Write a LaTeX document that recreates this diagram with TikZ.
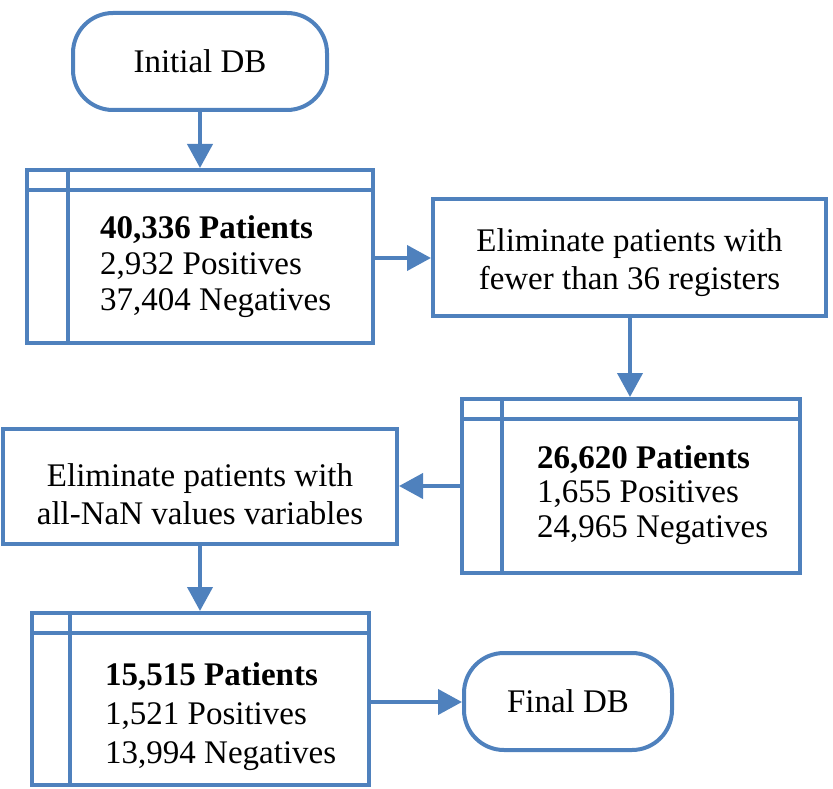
\documentclass[tikz,border=0pt]{standalone}
\usepackage{fontspec}
\setmainfont{Liberation Serif}
\usetikzlibrary{arrows.meta,calc}
\definecolor{lineblue}{HTML}{4F81BD}
\tikzset{
  ln/.style={draw=lineblue, line width=4pt, line join=miter},
  store/.style={ln, rectangle, inner sep=0pt},
  procbox/.style={ln, rectangle, inner sep=0pt},
  proctxt/.style={align=center, inner sep=0pt, font=\fontsize{33}{38}\selectfont},
  term/.style={ln, rectangle, rounded corners=40pt, inner sep=0pt, font=\fontsize{33}{38}\selectfont},
  txt/.style={anchor=west, align=left, inner sep=0pt},
  arr/.style={draw=lineblue, line width=4pt, -{Triangle[width=25pt,length=24pt]}}
}
\begin{document}
\begin{tikzpicture}[x=1pt,y=-1pt]
\useasboundingbox (0,0) rectangle (833,789);
% terminals
\node[term, minimum width=254pt, minimum height=97pt] (init) at (200,61.5) {Initial DB};
\node[term, minimum width=208pt, minimum height=97pt] (fin) at (568,701.5) {Final DB};
% process boxes
\node[procbox, minimum width=393pt, minimum height=117pt] (p1) at (629.5,257.5) {};
\node[proctxt] (p1t) at (629.5,263) {Eliminate patients with\\fewer than 36 registers};
\node[procbox, minimum width=394pt, minimum height=115pt] (p2) at (200,486.5) {};
\node[proctxt] (p2t) at (200,494) {Eliminate patients with\\all-NaN values variables};
% storage boxes
\node[store, minimum width=346pt, minimum height=173pt] (s1) at (200,256.5) {};
\draw[ln] ([xshift=43pt]s1.north west) -- ([xshift=43pt]s1.south west);
\draw[ln] ([yshift=-22pt]s1.north west) -- ([yshift=-22pt]s1.north east);
\node[txt, font=\fontsize{33}{36}\selectfont] (t1) at (100,266.5) {\textbf{40,336 Patients}\\2,932 Positives\\37,404 Negatives};

\node[store, minimum width=338pt, minimum height=174pt] (s2) at (631,486) {};
\draw[ln] ([xshift=42pt]s2.north west) -- ([xshift=42pt]s2.south west);
\draw[ln] ([yshift=-22pt]s2.north west) -- ([yshift=-22pt]s2.north east);
\node[txt, font=\fontsize{33}{34.5}\selectfont] (t2) at (537,495) {\textbf{26,620 Patients}\\1,655 Positives\\24,965 Negatives};

\node[store, minimum width=337pt, minimum height=172pt] (s3) at (200.5,699) {};
\draw[ln] ([xshift=40pt]s3.north west) -- ([xshift=40pt]s3.south west);
\draw[ln] ([yshift=-22pt]s3.north west) -- ([yshift=-22pt]s3.north east);
\node[txt, font=\fontsize{33}{39}\selectfont] (t3) at (105,717) {\textbf{15,515 Patients}\\1,521 Positives\\13,994 Negatives};
% connectors
\draw[arr] (init.south) -- (init.south |- s1.north);
\draw[arr] (s1.east |- 0,258) -- (p1.west |- 0,258);
\draw[arr] (p1.south -| 630,0) -- (s2.north -| 630,0);
\draw[arr] (s2.west |- 0,486) -- (p2.east |- 0,486);
\draw[arr] (p2.south) -- (p2.south |- s3.north);
\draw[arr] (s3.east |- 0,702) -- (fin.west |- 0,702);
\end{tikzpicture}
\end{document}
